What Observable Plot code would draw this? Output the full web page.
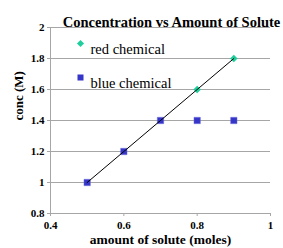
<!DOCTYPE html>
<html><head><meta charset="utf-8">
<script src="https://cdn.jsdelivr.net/npm/d3@7"></script>
<script src="https://cdn.jsdelivr.net/npm/@observablehq/plot@0.6"></script>
<style>body{margin:0;background:#fff} svg, svg text{font-family:"Liberation Serif","Times New Roman",serif !important}</style>
</head><body><div id="chart"></div>
<script>
const xTicks = [0.4, 0.6, 0.8, 1];
const yTicks = [0.8, 1, 1.2, 1.4, 1.6, 1.8, 2];
const blueX = [0.5, 0.6, 0.7, 0.8, 0.9];
const blueY = [1, 1.2, 1.4, 1.4, 1.4];
const redX = [0.8, 0.9];
const redY = [1.6, 1.8];
const trendX = [0.5, 0.6, 0.7, 0.8, 0.9];
const trendY = [1, 1.2, 1.4, 1.6, 1.8];
const seriesNames = ["red chemical", "blue chemical"];
const blue = "#3535c8", teal = "#1ecf9c", grid = "#a6a6a6";
const font = "'Liberation Serif', 'Times New Roman', serif";

const blueData = blueX.map((x, i) => ({x, y: blueY[i]}));
const redData = redX.map((x, i) => ({x, y: redY[i]}));
const trendData = trendX.map((x, i) => ({x, y: trendY[i]}));

const chart = Plot.plot({
  width: 283, height: 248,
  marginLeft: 50, marginRight: 13, marginTop: 27, marginBottom: 35,
  style: {fontFamily: font, background: "#fff", color: "#000"},
  x: {domain: [0.4, 1]},
  y: {domain: [0.8, 2]},
  marks: [
    Plot.ruleY(yTicks, {stroke: grid, strokeWidth: 1}),
    Plot.ruleX([0.4], {stroke: grid, strokeWidth: 1}),
    Plot.axisY(yTicks, {tickSize: 3, stroke: grid, label: null, tickFormat: () => ""}),
    Plot.axisX(xTicks, {tickSize: 3, stroke: grid, label: null, tickFormat: () => ""}),
    Plot.text(yTicks, {y: d => d, text: d => String(d), frameAnchor: "left", dx: -6, textAnchor: "end", fontWeight: "bold", fontSize: 11, fontFamily: font, fill: "#000"}),
    Plot.text(xTicks, {x: d => d, text: d => String(d), frameAnchor: "bottom", dy: 15, fontWeight: "bold", fontSize: 11, fontFamily: font, fill: "#000"}),
    Plot.dot(blueData, {x: "x", y: "y", symbol: "square", r: 3.6, fill: blue, stroke: "#6a6ae0", strokeWidth: 0.5}),
    Plot.dot(redData, {x: "x", y: "y", symbol: "diamond2", r: 3.4, fill: teal, stroke: "none"}),
    Plot.line(trendData, {x: "x", y: "y", stroke: "#000", strokeWidth: 1}),
    // legend
    Plot.dot([seriesNames[0]], {frameAnchor: "top-left", dx: 30, dy: 16, symbol: "diamond2", r: 3.2, fill: teal}),
    Plot.dot([seriesNames[1]], {frameAnchor: "top-left", dx: 30, dy: 50, symbol: "square", r: 3.4, fill: blue}),
    Plot.text([seriesNames[0]], {text: d => d, frameAnchor: "top-left", dx: 40, dy: 16, textAnchor: "start", fontSize: 14.5, fontFamily: font, fill: "#000"}),
    Plot.text([seriesNames[1]], {text: d => d, frameAnchor: "top-left", dx: 40, dy: 50, textAnchor: "start", fontSize: 14.5, fontFamily: font, fill: "#000"}),
    // titles
    Plot.text(["Concentration vs Amount of Solute"], {text: d => d, frameAnchor: "top", dx: 11, dy: -11, fontWeight: "bold", fontSize: 14.5, fontFamily: font, fill: "#000"}),
    Plot.text(["amount of solute (moles)"], {text: d => d, frameAnchor: "bottom", dy: 30, fontWeight: "bold", fontSize: 13.5, fontFamily: font, fill: "#000"}),
    Plot.text(["conc (M)"], {text: d => d, frameAnchor: "left", dx: -32, rotate: -90, fontWeight: "bold", fontSize: 13, fontFamily: font, fill: "#000"})
  ]
});
document.getElementById("chart").append(chart);
</script>
</body></html>
